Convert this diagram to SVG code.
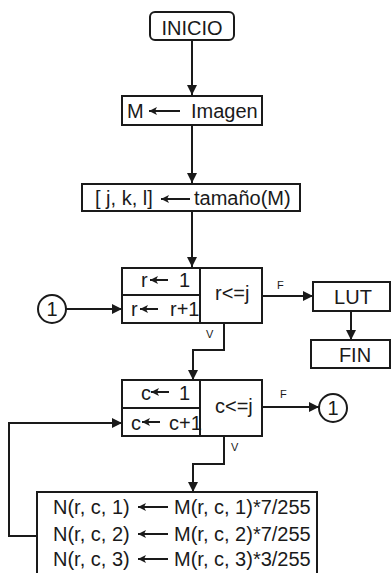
<svg xmlns="http://www.w3.org/2000/svg" width="391" height="573" viewBox="0 0 391 573">
<style>
.b{fill:#fff;stroke:#1a1a1a;stroke-width:2}
.l{fill:none;stroke:#1a1a1a;stroke-width:2}
.ta{fill:none;stroke:#1a1a1a;stroke-width:2}
text{font-family:"Liberation Sans",Arial,sans-serif;font-size:20px;fill:#1a1a1a}
.s{font-size:11px}
.m{text-anchor:middle}
</style>
<defs>
<marker id="ah" markerWidth="10" markerHeight="10" refX="10" refY="5" orient="auto" markerUnits="userSpaceOnUse">
<path d="M0,0 L10,5 L0,10 Z" fill="#1a1a1a"/>
</marker>
<marker id="sh" markerWidth="8" markerHeight="8" refX="0" refY="4" orient="auto" markerUnits="userSpaceOnUse">
<path d="M0,4 L8,0 L6,4 L8,8 Z" fill="#1a1a1a"/>
</marker>
</defs>
<g id="connectors">
<path class="l" d="M192,40 V95" marker-end="url(#ah)"/>
<path class="l" d="M192,125 V183" marker-end="url(#ah)"/>
<path class="l" d="M192,211 V267" marker-end="url(#ah)"/>
<path class="l" d="M66,309 H122" marker-end="url(#ah)"/>
<path class="l" d="M262,296 H313" marker-end="url(#ah)"/>
<path class="l" d="M351,311 V340" marker-end="url(#ah)"/>
<path class="l" d="M224,323 V350 H193 V380" marker-end="url(#ah)"/>
<path class="l" d="M262,407 H319" marker-end="url(#ah)"/>
<path class="l" d="M224,436 V464 H193 V492" marker-end="url(#ah)"/>
<path class="l" d="M37,536 H9 V423 H122" marker-end="url(#ah)"/>
<text class="s" x="277" y="289">F</text>
<text class="s" x="206" y="338">V</text>
<text class="s" x="280" y="398">F</text>
<text class="s" x="231" y="451">V</text>
</g>
<g id="inicio">
<rect class="b" x="150" y="12" width="84" height="28" rx="5"/>
<text class="m" x="192" y="35">INICIO</text>
</g>
<g id="asignar-imagen">
<rect class="b" x="122" y="96" width="140" height="29"/>
<text x="127" y="118">M</text>
<path class="ta" d="M149,111 H180" marker-start="url(#sh)"/>
<text x="191" y="118">Imagen</text>
</g>
<g id="tamano">
<rect class="b" x="82" y="184" width="218" height="27"/>
<text x="95" y="205">[ j, k, l]</text>
<path class="ta" d="M161,199 H190" marker-start="url(#sh)"/>
<text x="194" y="205">tamaño(M)</text>
</g>
<g id="bucle-r">
<rect class="b" x="122" y="268" width="140" height="55"/>
<path class="l" d="M200,268 V323 M122,295 H200"/>
<text x="141" y="287">r</text>
<path class="ta" d="M150,280 H168" marker-start="url(#sh)"/>
<text x="179" y="287">1</text>
<text x="131" y="316">r</text>
<path class="ta" d="M140,309 H158" marker-start="url(#sh)"/>
<text x="170" y="316">r+1</text>
<text x="215" y="300">r&lt;=j</text>
</g>
<g id="conector-1a">
<circle class="b" cx="52" cy="309" r="14"/>
<text class="m" x="52" y="316">1</text>
</g>
<g id="lut">
<rect class="b" x="313" y="282" width="77" height="29"/>
<text class="m" x="353" y="304">LUT</text>
</g>
<g id="fin">
<rect class="b" x="311" y="340" width="79" height="28"/>
<text class="m" x="355" y="362">FIN</text>
</g>
<g id="bucle-c">
<rect class="b" x="122" y="380" width="140" height="56"/>
<path class="l" d="M200,380 V436 M122,408 H200"/>
<text x="141" y="400">c</text>
<path class="ta" d="M151,392 H169" marker-start="url(#sh)"/>
<text x="179" y="400">1</text>
<text x="131" y="430">c</text>
<path class="ta" d="M142,422 H160" marker-start="url(#sh)"/>
<text x="169" y="430">c+1</text>
<text x="215" y="413">c&lt;=j</text>
</g>
<g id="conector-1b">
<circle class="b" cx="333" cy="408" r="14"/>
<text class="m" x="333" y="415">1</text>
</g>
<g id="calculo">
<rect class="b" x="37" y="492" width="280" height="100"/>
<text x="53" y="514">N(r, c, 1)</text>
<path class="ta" d="M138,507 H168" marker-start="url(#sh)"/>
<text x="174" y="514">M(r, c, 1)*7/255</text>
<text x="53" y="541">N(r, c, 2)</text>
<path class="ta" d="M138,534 H168" marker-start="url(#sh)"/>
<text x="174" y="541">M(r, c, 2)*7/255</text>
<text x="53" y="566">N(r, c, 3)</text>
<path class="ta" d="M138,559 H168" marker-start="url(#sh)"/>
<text x="174" y="566">M(r, c, 3)*3/255</text>
</g>
</svg>
